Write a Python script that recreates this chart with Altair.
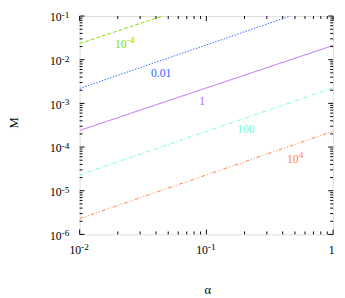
import altair as alt
import pandas as pd

# ---- data ----
series = ["10⁻⁴", "0.01", "1", "100", "10⁴"]
alpha_start = [0.01, 0.01, 0.01, 0.01, 0.01]
alpha_end = [0.045, 0.46, 1.0, 1.0, 1.0]
m_start = [0.0235, 0.0022, 2.4e-4, 2.3e-5, 2.3e-6]
m_end = [0.1, 0.1, 0.0212, 2.26e-3, 2.3e-4]
colors = ["#7fe000", "#3366ff", "#b266ff", "#6fffcf", "#ff7f3f"]
dashes = [[4, 2], [1.5, 1.5], [1, 0], [4, 2, 1, 2], [4, 2, 1, 2, 1, 2]]

# in-plot labels: base text + exponent (gnuplot-style superscript)
label_base = ["10", "0.01", "1", "100", "10"]
label_exp = ["-4", "", "", "", "4"]
label_alpha = [0.0235, 0.044, 0.0925, 0.205, 0.535]
label_m = [0.0185, 4.07e-3, 9.27e-4, 2.14e-4, 4.33e-5]

x_major = [0.01, 0.1, 1.0]
x_major_base = ["10", "10", "1"]
x_major_exp = ["-2", "-1", ""]
y_major = [1e-6, 1e-5, 1e-4, 1e-3, 1e-2, 1e-1]
y_major_base = ["10", "10", "10", "10", "10", "10"]
y_major_exp = ["-6", "-5", "-4", "-3", "-2", "-1"]
mantissas = [2, 3, 4, 5, 6, 7, 8, 9]
x_minor = [m * d for d in [0.01, 0.1] for m in mantissas]
y_minor = [m * d for d in [1e-6, 1e-5, 1e-4, 1e-3, 1e-2] for m in mantissas]

W, H = 260, 224
FONT = "Liberation Serif"
BASE_FS, EXP_FS = 12, 9.5

rows = []
for i, s in enumerate(series):
    rows.append({"s": s, "order": 0, "alpha": alpha_start[i], "M": m_start[i]})
    rows.append({"s": s, "order": 1, "alpha": alpha_end[i], "M": m_end[i]})
lines_df = pd.DataFrame(rows)
labels_df = pd.DataFrame({"s": series, "base": label_base, "exp": label_exp,
                          "alpha": label_alpha, "M": label_m})

xs = alt.Scale(type="log", domain=[0.01, 1], nice=False)
ys = alt.Scale(type="log", domain=[1e-6, 1e-1], nice=False)
cs = alt.Scale(domain=series, range=colors)
ds = alt.Scale(domain=series, range=dashes)

x_axis = alt.Axis(values=x_major, labels=False, ticks=False, domain=False,
                  grid=False, title="α", titleFont=FONT, titleFontSize=13,
                  titleFontWeight="normal", titleColor="black",
                  titleX=131, titleY=60.5, titleBaseline="alphabetic",
                  titleAlign="center")
y_axis = alt.Axis(values=y_major, labels=False, ticks=False, domain=False,
                  grid=False, title="M", titleFont=FONT, titleFontSize=13,
                  titleFontWeight="normal", titleColor="black",
                  titleX=-68, titleY=109, titleAngle=-90,
                  titleBaseline="middle", titleAlign="center")

X = alt.X("alpha:Q", scale=xs, axis=x_axis)
Y = alt.Y("M:Q", scale=ys, axis=y_axis)
C = alt.Color("s:N", scale=cs, legend=None)

lines = alt.Chart(lines_df).mark_line(strokeWidth=1, clip=True).encode(
    x=X, y=Y, color=C,
    strokeDash=alt.StrokeDash("s:N", scale=ds, legend=None),
    detail="s:N", order="order:Q",
)

lab = alt.Chart(labels_df)
plain = lab.transform_filter("datum.exp == ''").mark_text(
    font=FONT, fontSize=BASE_FS, baseline="alphabetic", align="center"
).encode(x=X, y=Y, color=C, text="base:N")
pw_base = lab.transform_filter("datum.exp != ''").mark_text(
    font=FONT, fontSize=BASE_FS, baseline="alphabetic", align="right"
).encode(x=X, y=Y, color=C, text="base:N")
pw_exp = lab.transform_filter("datum.exp != ''").mark_text(
    font=FONT, fontSize=EXP_FS, baseline="alphabetic", align="left", dy=-5.5
).encode(x=X, y=Y, color=C, text="exp:N")

# tick labels drawn as text (base + superscript)
xlab_df = pd.DataFrame({"alpha": x_major, "base": x_major_base, "exp": x_major_exp})
ylab_df = pd.DataFrame({"M": y_major, "base": y_major_base, "exp": y_major_exp})

xlab_base = alt.Chart(xlab_df).mark_text(
    font=FONT, fontSize=BASE_FS, baseline="alphabetic", align="right",
    dx=1.5, color="black"
).encode(x=X, y=alt.value(H + 20.5), text="base:N")
xlab_exp = alt.Chart(xlab_df).mark_text(
    font=FONT, fontSize=EXP_FS, baseline="alphabetic", align="left",
    dx=1.5, color="black"
).encode(x=X, y=alt.value(H + 15.5), text="exp:N")
ylab_base = alt.Chart(ylab_df).mark_text(
    font=FONT, fontSize=BASE_FS, baseline="alphabetic", align="right",
    dy=5.5, color="black"
).encode(y=Y, x=alt.value(-18.5), text="base:N")
ylab_exp = alt.Chart(ylab_df).mark_text(
    font=FONT, fontSize=EXP_FS, baseline="alphabetic", align="left",
    dy=2, color="black"
).encode(y=Y, x=alt.value(-18.5), text="exp:N")


def xticks(vals, length):
    df = pd.DataFrame({"alpha": vals})
    base = alt.Chart(df).mark_rule(color="black", strokeWidth=1)
    bottom = base.encode(x=X, y=alt.value(H), y2=alt.value(H - length))
    top = base.encode(x=X, y=alt.value(0), y2=alt.value(length))
    return [bottom, top]


def yticks(vals, length):
    df = pd.DataFrame({"M": vals})
    base = alt.Chart(df).mark_rule(color="black", strokeWidth=1)
    left = base.encode(y=Y, x=alt.value(0), x2=alt.value(length))
    right = base.encode(y=Y, x=alt.value(W), x2=alt.value(W - length))
    return [left, right]


layers = [lines, plain, pw_base, pw_exp, xlab_base, xlab_exp, ylab_base, ylab_exp] \
    + xticks(x_major, 5) + xticks(x_minor, 3) \
    + yticks(y_major, 5) + yticks(y_minor, 3)

chart = alt.layer(*layers).properties(
    width=W, height=H,
    autosize=alt.AutoSizeParams(type="none"),
    padding={"left": 73.5, "top": 4.5, "right": 4, "bottom": 62},
).configure_view(stroke="black", strokeWidth=1).configure(background="white")

chart.save("out.html", embed_options={"renderer": "svg", "actions": False})
